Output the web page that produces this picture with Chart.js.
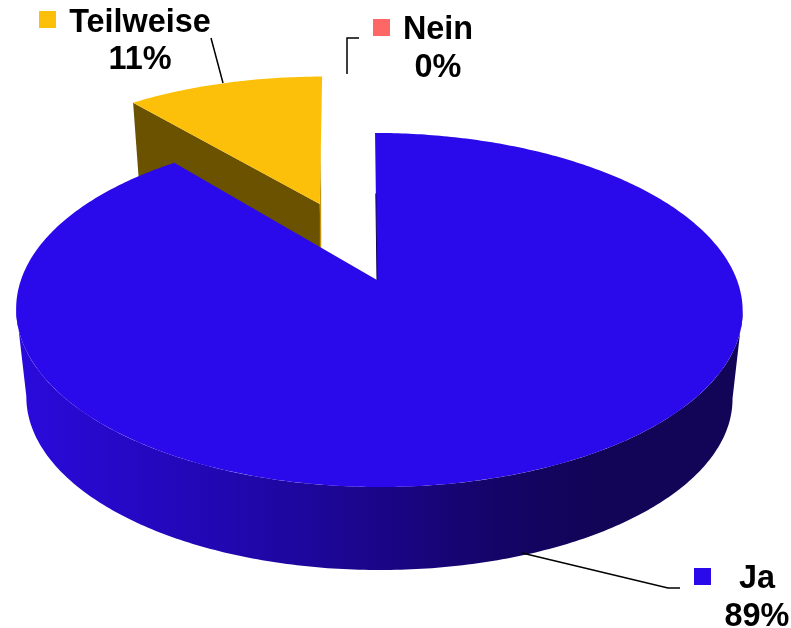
<!DOCTYPE html>
<html>
<head>
<meta charset="utf-8">
<script src="https://cdn.jsdelivr.net/npm/chart.js@4"></script>
<style>
  body { margin: 0; background: #fff; }
  canvas { display: block; }
</style>
</head>
<body>
<canvas id="tortenChart" width="791" height="628"></canvas>
<script>
const labels = ['Ja', 'Teilweise', 'Nein'];
const values = [89, 11, 0];
const colors = ['#2a0aea', '#fcc00a', '#ff6666'];
const wallColors = ['#1e06a0', '#6b5200', '#8a3030'];
const explode = [0, 0.5, 0];

// Kamera: Einheitskreis -> Bildschirm (Perspektive, Canvas 2D kann das nicht per transform)
function top3d(u, v) {
  const w = 1 - 0.1695 * v;
  return [377 + (358 * u + 2.3 * v) / w, (124.5 * v + 280) / w];
}
// Unterseite der Torte
function bottom3d(p) {
  return [380 + (p[0] - 380) * 0.972, p[1] * 0.972 + 96.6];
}
// kleine Korrekturen je Stück, damit es auf dem Original liegt
const nudge = [
  p => { const d = (p[0] - 377) / 363; return [p[0] + 2 * d * d, p[1]]; },
  p => [p[0] - (207 - p[1]) * 0.028, p[1] - 1],
  p => p
];

function arcPoints(a0, a1, ox, oy, i) {
  const pts = [];
  const n = Math.max(2, Math.ceil(Math.abs(a1 - a0) * 80));
  for (let k = 0; k <= n; k++) {
    const a = a0 + (a1 - a0) * k / n;
    pts.push(nudge[i](top3d(ox + Math.cos(a), oy + Math.sin(a))));
  }
  return pts;
}

function fillPoly(ctx, pts, fill) {
  ctx.beginPath();
  pts.forEach((p, i) => i ? ctx.lineTo(p[0], p[1]) : ctx.moveTo(p[0], p[1]));
  ctx.closePath();
  ctx.fillStyle = fill;
  ctx.fill();
}

function drawSlice(ctx, arc, i) {
  const mid = (arc.startAngle + arc.endAngle) / 2;
  const ox = Math.cos(mid) * explode[i];
  const oy = Math.sin(mid) * explode[i];
  const apex = nudge[i](top3d(ox, oy));
  const rim = arcPoints(arc.startAngle, arc.endAngle, ox, oy, i);

  if (i === 0) {
    // Vorderwand: vom rechten bis zum linken Extrempunkt der Oberseite
    const all = arcPoints(-0.5, Math.PI + 0.5, 0, 0, i);
    const xs = all.map(p => p[0]);
    const front = all.slice(xs.indexOf(Math.max(...xs)), xs.indexOf(Math.min(...xs)) + 1);
    const grad = ctx.createLinearGradient(16, 0, 743, 0);
    grad.addColorStop(0, '#2a0adc');
    grad.addColorStop(0.32, '#2007ab');
    grad.addColorStop(0.66, '#150468');
    grad.addColorStop(0.8, '#120456');
    grad.addColorStop(1, '#120456');
    fillPoly(ctx, front.concat(front.map(bottom3d).reverse()), grad);
  } else {
    // Schnittfläche links (rim[0] = linke Ecke)
    const first = rim[0];
    fillPoly(ctx, [apex, first, bottom3d(first), bottom3d(apex)], wallColors[i]);
    // schmale helle Kante rechts
    const last = rim[rim.length - 1];
    const half = [(apex[0] + last[0]) / 2, (apex[1] + last[1]) / 2];
    fillPoly(ctx, [half, [apex[0] + 1.5, apex[1] + 45], [apex[0], apex[1] + 45], apex], '#c39510');
  }

  fillPoly(ctx, [apex].concat(rim), colors[i]);

  if (i === 0) {
    // dunkle Kante an der Schnittfläche
    const inner = top3d(Math.cos(arc.startAngle) * 0.55, Math.sin(arc.startAngle) * 0.55);
    ctx.beginPath();
    ctx.moveTo(apex[0], apex[1]);
    ctx.lineTo(inner[0], inner[1]);
    ctx.strokeStyle = '#120456';
    ctx.lineWidth = 1;
    ctx.stroke();
  }
}

const pie3d = {
  id: 'pie3d',
  beforeDatasetsDraw(chart) {
    const ctx = chart.ctx;
    const arcs = chart.getDatasetMeta(0).data;
    ctx.save();
    // hinten zuerst: Teilweise liegt hinter Ja
    [1, 0].forEach(i => drawSlice(ctx, arcs[i], i));
    ctx.restore();
    return false;
  },
  afterDraw(chart) {
    const ctx = chart.ctx;
    ctx.save();
    ctx.strokeStyle = '#000';
    ctx.lineWidth = 1.5;
    const leaders = [
      [[522, 553], [668, 588], [680, 588]],
      [[211, 38], [223, 83]],
      [[359, 38], [347, 38], [347, 74]]
    ];
    leaders.forEach(line => {
      ctx.beginPath();
      line.forEach((p, i) => i ? ctx.lineTo(p[0], p[1]) : ctx.moveTo(p[0], p[1]));
      ctx.stroke();
    });

    // Beschriftung: Position je Kategorie
    const labelPos = [
      { x: 757, y1: 588, y2: 626, sx: 694, sy: 568 },
      { x: 140, y1: 32, y2: 69, sx: 39, sy: 11 },
      { x: 438, y1: 39, y2: 77, sx: 373, sy: 19 }
    ];
    ctx.font = 'bold 32.4px "Liberation Sans", Arial, sans-serif';
    ctx.textAlign = 'center';
    ctx.textBaseline = 'alphabetic';
    labels.forEach((name, i) => {
      const pos = labelPos[i];
      ctx.fillStyle = colors[i];
      ctx.fillRect(pos.sx, pos.sy, 17, 17);
      ctx.fillStyle = '#000';
      ctx.fillText(name, pos.x, pos.y1);
      ctx.fillText(values[i] + '%', pos.x, pos.y2);
    });
    ctx.restore();
  }
};

new Chart(document.getElementById('tortenChart'), {
  type: 'pie',
  data: {
    labels: labels,
    datasets: [{ data: values, backgroundColor: colors, borderWidth: 0 }]
  },
  options: {
    responsive: false,
    animation: false,
    plugins: {
      legend: { display: false },
      tooltip: { enabled: false }
    }
  },
  plugins: [pie3d]
});
</script>
</body>
</html>
